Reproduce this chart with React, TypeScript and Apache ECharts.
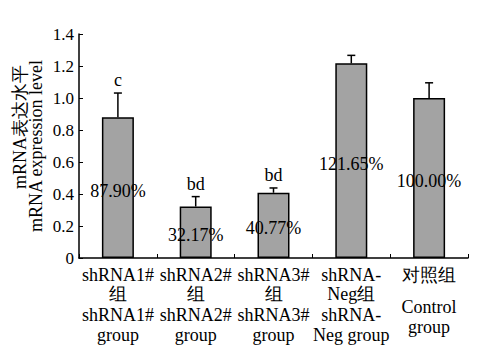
import React, { useEffect, useRef } from "react";
import * as echarts from "echarts";

const categoriesCn = ["shRNA1#\n组", "shRNA2#\n组", "shRNA3#\n组", "shRNA-\nNeg组", "对照组"];
const categoriesEn = ["shRNA1#\ngroup", "shRNA2#\ngroup", "shRNA3#\ngroup", "shRNA-\nNeg group", "Control\ngroup"];
const meanValues = [0.879, 0.3217, 0.4077, 1.2165, 1.0];
const errorValues = [0.152, 0.062, 0.03, 0.05, 0.095];
const percentLabels = ["87.90%", "32.17%", "40.77%", "121.65%", "100.00%"];
const sigLetters = ["c", "bd", "bd", "", ""];
const yMin = 0;
const yMax = 1.4;
const yInterval = 0.2;
const yNameCn = "mRNA表达水平";
const yNameEn = "mRNA expression level";

const FONT = "Liberation Serif";

export default function App() {
  const ref = useRef<HTMLDivElement>(null);
  useEffect(() => {
    if (!ref.current) return;
    document.body.style.margin = "0";
    const chart = echarts.init(ref.current, null, { renderer: "svg" });
    const errData = meanValues.map((v, i) => [i, v, errorValues[i]]);
    chart.setOption({
      animation: false,
      backgroundColor: "#ffffff",
      grid: { left: 79, right: 17, top: 34, bottom: 92 },
      xAxis: [
        {
          type: "category",
          data: categoriesCn,
          boundaryGap: true,
          axisLine: { show: true, lineStyle: { color: "#000", width: 1.5 } },
          axisTick: { show: true, inside: true, length: 4, lineStyle: { color: "#000", width: 1 } },
          axisLabel: {
            color: "#000",
            fontFamily: FONT,
            fontSize: 18,
            lineHeight: 19.5,
            margin: 7,
            interval: 0,
          },
          splitLine: { show: false },
        },
        {
          type: "category",
          position: "bottom",
          data: categoriesEn.map((c, i) =>
            i === 4
              ? { value: c, textStyle: { padding: [0, 0, 0, 0] } }
              : { value: c, textStyle: { padding: [8, 0, 0, 0] } }
          ),
          boundaryGap: true,
          axisLine: { show: false },
          axisTick: { show: false },
          axisLabel: {
            color: "#000",
            fontFamily: FONT,
            fontSize: 18,
            lineHeight: 19.5,
            margin: 39.5,
            interval: 0,
          },
          splitLine: { show: false },
        },
      ],
      yAxis: {
        type: "value",
        min: yMin,
        max: yMax,
        interval: yInterval,
        axisLine: { show: true, lineStyle: { color: "#000", width: 1.5 } },
        axisTick: { show: true, inside: true, length: 4, lineStyle: { color: "#000", width: 1 } },
        axisLabel: {
          color: "#000",
          fontFamily: FONT,
          fontSize: 17,
          margin: 5,
          formatter: (v: number) => (v === 0 ? "0" : v.toFixed(1)),
        },
        splitLine: { show: false },
      },
      graphic: [
        {
          type: "text",
          x: 20,
          y: 127,
          rotation: Math.PI / 2,
          style: {
            text: yNameCn,
            fontFamily: FONT,
            fontSize: 18,
            fill: "#000",
            align: "center",
            verticalAlign: "middle",
          },
        },
        {
          type: "text",
          x: 36,
          y: 146,
          rotation: Math.PI / 2,
          style: {
            text: yNameEn,
            fontFamily: FONT,
            fontSize: 18,
            fill: "#000",
            align: "center",
            verticalAlign: "middle",
          },
        },
      ],
      series: [
        {
          type: "bar",
          data: meanValues,
          barWidth: 32,
          itemStyle: { color: "#a3a3a3", borderColor: "#000", borderWidth: 1.5 },
          label: {
            show: true,
            position: "inside",
            offset: [0, 3],
            color: "#000",
            fontFamily: FONT,
            fontSize: 18,
            formatter: (p: any) => percentLabels[p.dataIndex],
          },
          z: 2,
        },
        {
          type: "custom",
          data: errData,
          z: 3,
          renderItem: (params: any, api: any) => {
            const idx = api.value(0);
            const v = api.value(1);
            const e = api.value(2);
            const letter = sigLetters[params.dataIndex];
            const base = api.coord([idx, v]);
            const top = api.coord([idx, v + e]);
            const children: any[] = [
              {
                type: "line",
                shape: { x1: base[0], y1: base[1], x2: top[0], y2: top[1] },
                style: { stroke: "#000", lineWidth: 1.5 },
              },
              {
                type: "line",
                shape: { x1: top[0] - 4, y1: top[1], x2: top[0] + 4, y2: top[1] },
                style: { stroke: "#000", lineWidth: 1.5 },
              },
            ];
            if (letter) {
              children.push({
                type: "text",
                x: top[0],
                y: top[1] - 13,
                style: {
                  text: letter,
                  fontFamily: FONT,
                  fontSize: 18,
                  fill: "#000",
                  align: "center",
                  verticalAlign: "middle",
                },
              });
            }
            return { type: "group", children };
          },
        },
      ],
    });
    return () => chart.dispose();
  }, []);
  return <div ref={ref} style={{ width: 485, height: 350 }} />;
}
